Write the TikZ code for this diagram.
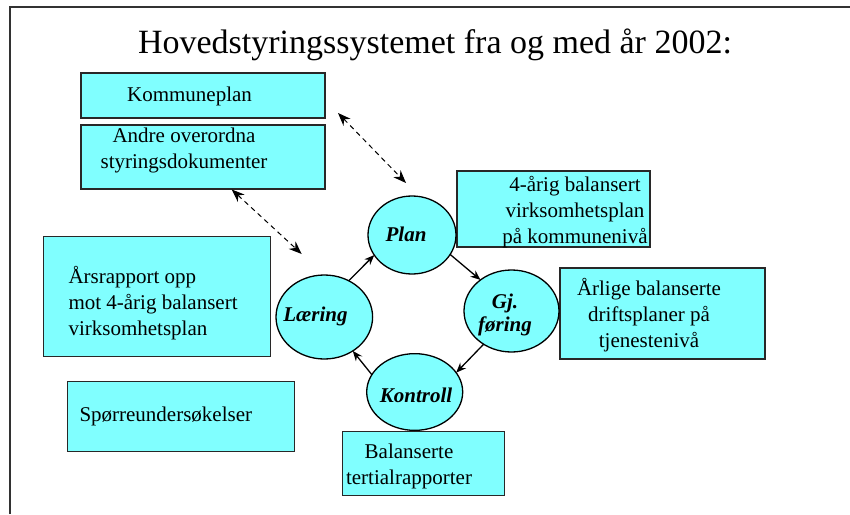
\documentclass[tikz,border=0pt]{standalone}
\usepackage{fontspec}
\setmainfont{Liberation Serif}
\usetikzlibrary{arrows.meta,shapes.geometric}
\definecolor{boxcyan}{RGB}{128,255,255}
\definecolor{edgegray}{RGB}{40,40,40}
\definecolor{framegray}{RGB}{50,50,50}
\begin{document}
\begin{tikzpicture}[x=1pt,y=-1pt,
  box/.style={draw=edgegray, line width=1.3pt, fill=boxcyan, rectangle, inner sep=0pt, outer sep=0pt},
  oval/.style={draw=black, line width=1.3pt, fill=boxcyan, ellipse, inner sep=0pt, outer sep=0pt},
  olabel/.style={font=\fontsize{21}{23}\selectfont\bfseries\itshape, align=center, inner sep=0pt},
  txt/.style={font=\fontsize{21}{26}\selectfont, align=center, inner sep=0pt},
  ltxt/.style={font=\fontsize{21}{26}\selectfont, align=left, inner sep=0pt, anchor=west},
  flow/.style={-{Stealth[length=10pt,width=8pt]}, line width=1.3pt},
  link/.style={{Stealth[length=13pt,width=10pt]}-{Stealth[length=13pt,width=10pt]}, line width=1pt, dash pattern=on 5pt off 4pt}]
\useasboundingbox (0,0) rectangle (850,514);
\fill[white] (0,0) rectangle (850,514);
\draw[line width=2pt, framegray] (10,514) -- (10,6.5) -- (850,6.5);

\node[font=\fontsize{34}{40}\selectfont, inner sep=0pt] (title) at (435,45) {Hovedstyringssystemet fra og med år 2002:};

% boxes
\node[box, minimum width=244pt, minimum height=45pt] (komm) at (203,95.5) {};
\node[box, minimum width=244pt, minimum height=64pt] (andre) at (203,157) {};
\node[box, minimum width=193pt, minimum height=76pt] (fire) at (553.5,209) {};
\node[box, minimum width=205pt, minimum height=91pt] (arlige) at (662.5,313.5) {};
\node[box, minimum width=227pt, minimum height=120pt] (arsrap) at (156.7,296.7) {};
\node[box, minimum width=227pt, minimum height=70pt] (sporre) at (180.7,416.7) {};
\node[box, minimum width=162pt, minimum height=64pt] (balans) at (423.8,463.7) {};

\node[txt] (kommT) at (189.5,96.5) {Kommuneplan};
\node[txt] (andreT) at (184,150) {Andre overordna\\styringsdokumenter};
\node[txt] (fireT) at (575,212) {4-årig balansert\\virksomhetsplan\\på kommunenivå};
\node[txt] (arligeT) at (649,315) {Årlige balanserte\\driftsplaner på\\tjenestenivå};
\node[ltxt] (arsT) at (68.3,303.5) {Årsrapport opp\\mot 4-årig balansert\\virksomhetsplan};
\node[ltxt] (sporT) at (79.3,416) {Spørreundersøkelser};
\node[txt] (balT) at (409,466) {Balanserte\\tertialrapporter};

% ellipses
\node[oval, minimum width=88pt, minimum height=78pt] (plan) at (412,235) {};
\node[oval, minimum width=95pt, minimum height=82pt] (gj) at (511.5,311) {};
\node[oval, minimum width=96.6pt, minimum height=84pt] (laering) at (324.3,317) {};
\node[oval, minimum width=96pt, minimum height=76.7pt] (kontroll) at (414.7,392) {};

\node[olabel] (planT) at (406,234) {Plan};
\node[olabel] (gjT) at (505,315) {Gj.\\føring};
\node[olabel] (laeringT) at (315.5,316) {Læring};
\node[olabel] (kontrollT) at (416,395) {Kontroll};

% cycle arrows
\draw[flow] (plan.-27) -- (gj.135);
\draw[flow] (gj.230) -- (kontroll.25);
\draw[flow] (kontroll.158) -- (laering.-50);
\draw[flow] (laering.56) -- (plan.208);

% dashed links
\coordinate (c1) at (338,113);
\coordinate (c2) at (406,183);
\coordinate (c3) at (231.7,189.5);
\coordinate (c4) at (301.7,254);
\draw[link] (c1) -- (c2);
\draw[link] (c3) -- (c4);
\end{tikzpicture}
\end{document}
